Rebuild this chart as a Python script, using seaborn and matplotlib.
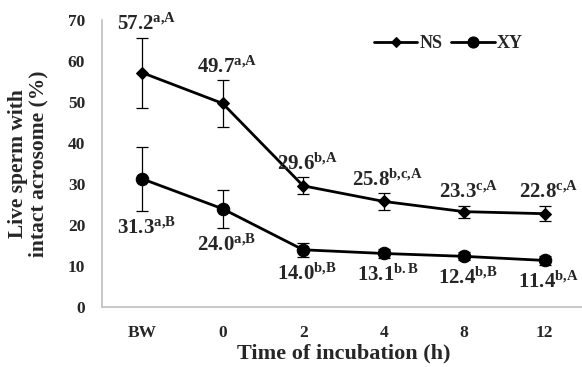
import matplotlib
matplotlib.use("Agg")
import matplotlib.pyplot as plt
import seaborn as sns
import pandas as pd

# Incubation time points
times = ["BW", "0", "2", "4", "8", "12"]

# Live sperm with intact acrosome (%), mean and SD per group
ns_mean = [57.2, 49.7, 29.6, 25.8, 23.3, 22.8]
ns_sd = [8.5, 5.7, 2.1, 2.0, 1.5, 1.9]
xy_mean = [31.3, 24.0, 14.0, 13.1, 12.4, 11.4]
xy_sd = [7.8, 4.7, 1.7, 1.0, 1.0, 1.0]

# Significance letters
ns_sup = ["a,A", "a,A", "b,A", "b,c,A", "c,A", "c,A"]
xy_sup = ["a,B", "a,B", "b,B", "b.B", "b,B", "b,A"]

sns.set_theme(style="white")
plt.rcParams["font.family"] = ["Liberation Serif", "DejaVu Serif"]
plt.rcParams["font.weight"] = "bold"
plt.rcParams["mathtext.fontset"] = "custom"
plt.rcParams["mathtext.rm"] = "Liberation Serif:bold"
plt.rcParams["mathtext.it"] = "Liberation Serif:bold"
plt.rcParams["mathtext.bf"] = "Liberation Serif:bold"

df = pd.DataFrame({
    "time": times * 2,
    "value": ns_mean + xy_mean,
    "group": ["NS"] * len(times) + ["XY"] * len(times),
})

fig = plt.figure(figsize=(5.82, 3.67), dpi=100)
ax = fig.add_axes([0.175, 0.163, 0.83, 0.782])

sns.lineplot(data=df, x="time", y="value", hue="group", style="group",
             markers={"NS": "D", "XY": "o"}, dashes=False,
             palette={"NS": "black", "XY": "black"}, linewidth=2,
             markeredgecolor="black", ax=ax, sort=False)
for line, ms in zip(ax.lines[:2], [6, 9]):
    line.set_markersize(ms)

xpos = list(range(len(times)))
ax.errorbar(xpos, ns_mean, yerr=ns_sd, fmt="none", ecolor="black",
            elinewidth=0.9, capsize=4, capthick=0.9)
ax.errorbar(xpos, xy_mean, yerr=xy_sd, fmt="none", ecolor="black",
            elinewidth=0.9, capsize=4, capthick=0.9)


def sup_label(value, letters):
    # keep punctuation tight inside the superscript
    tight = letters.replace(",", "{,}")
    return rf"${value:.1f}^{{\mathrm{{{tight}}}}}$"


# Value labels with superscript letters
for i in xpos:
    ax.annotate(sup_label(ns_mean[i], ns_sup[i]), (i, ns_mean[i] + ns_sd[i]),
                xytext=(3, 5.5), textcoords="offset points", ha="center", va="baseline",
                fontsize=15)
    ax.annotate(sup_label(xy_mean[i], xy_sup[i]), (i, xy_mean[i] - xy_sd[i]),
                xytext=(3, -5), textcoords="offset points", ha="center", va="top",
                fontsize=15)

ax.set_xlim(-0.5, 5.5)
ax.set_ylim(0, 70)
ax.set_yticks(range(0, 71, 10))
ax.tick_params(axis="both", length=0, labelsize=12.5)
ax.tick_params(axis="y", pad=12)
ax.tick_params(axis="x", pad=13)
for lab in ax.get_xticklabels() + ax.get_yticklabels():
    lab.set_fontweight("bold")

ax.set_xlabel("Time of incubation (h)", fontsize=16, fontweight="bold")
ax.xaxis.set_label_coords(0.5, -0.125)
ax.set_ylabel("Live sperm with\nintact acrosome (%)", fontsize=15.5, fontweight="bold",
              linespacing=1.05)
ax.yaxis.set_label_coords(-0.11, 0.5)

for side in ["top", "right"]:
    ax.spines[side].set_visible(False)
for side in ["left", "bottom"]:
    ax.spines[side].set_color("#bfbfbf")
    ax.spines[side].set_linewidth(1.2)

leg = ax.legend(loc="upper left", bbox_to_anchor=(0.53, 1.005), ncol=2, frameon=False,
                prop={"family": "Liberation Serif", "weight": "bold", "size": 13},
                handlelength=2.4, handletextpad=0.1, columnspacing=0.5)
for h, ms in zip(leg.legend_handles, [5, 8]):
    h.set_markersize(ms)

fig.savefig("out.png", dpi=100)
